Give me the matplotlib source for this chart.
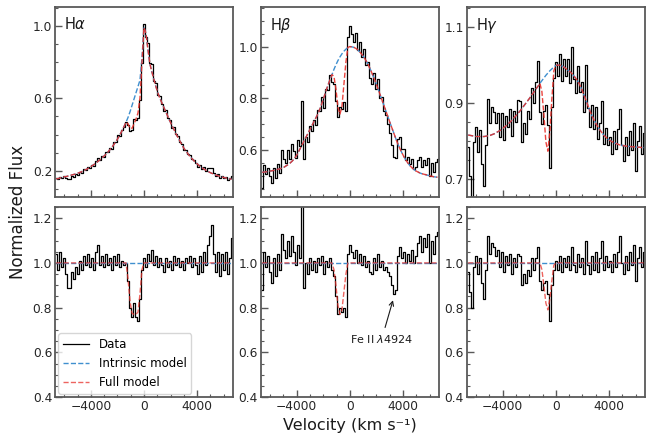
import numpy as np
import matplotlib
matplotlib.use("Agg")
import matplotlib.pyplot as plt
from matplotlib.ticker import MultipleLocator, FixedLocator

# velocity bins (km/s)
vel = np.arange(-6600, 6601, 150)

# intrinsic (unabsorbed) line models
ha_intrinsic = [
    0.155, 0.157, 0.160, 0.163, 0.166, 0.168, 0.171, 0.174, 0.177, 0.180,
    0.183, 0.187, 0.191, 0.196, 0.201, 0.207, 0.213, 0.220, 0.227, 0.235,
    0.243, 0.252, 0.261, 0.271, 0.281, 0.292, 0.304, 0.317, 0.331, 0.346,
    0.362, 0.380, 0.400, 0.421, 0.444, 0.468, 0.494, 0.525, 0.560, 0.595,
    0.630, 0.665, 0.700, 0.820, 0.990, 0.960, 0.870, 0.790, 0.745, 0.705,
    0.665, 0.630, 0.600, 0.575, 0.550, 0.525, 0.500, 0.475, 0.450, 0.430,
    0.405, 0.385, 0.365, 0.345, 0.325, 0.310, 0.295, 0.280, 0.268, 0.256,
    0.245, 0.235, 0.226, 0.218, 0.210, 0.203, 0.197, 0.191, 0.186, 0.181,
    0.177, 0.173, 0.169, 0.166, 0.163, 0.160, 0.158, 0.155, 0.153]
hb_intrinsic = [
    0.515, 0.516, 0.517, 0.518, 0.520, 0.521, 0.523, 0.525, 0.527, 0.529,
    0.532, 0.535, 0.540, 0.545, 0.551, 0.558, 0.567, 0.577, 0.591, 0.606,
    0.621, 0.636, 0.651, 0.666, 0.681, 0.696, 0.711, 0.726, 0.742, 0.760,
    0.782, 0.805, 0.829, 0.851, 0.872, 0.892, 0.912, 0.930, 0.946, 0.960,
    0.972, 0.982, 0.990, 0.997, 1.000, 0.999, 0.997, 0.993, 0.987, 0.979,
    0.970, 0.960, 0.947, 0.933, 0.917, 0.899, 0.880, 0.861, 0.840, 0.818,
    0.796, 0.775, 0.753, 0.731, 0.709, 0.688, 0.667, 0.646, 0.626, 0.608,
    0.592, 0.577, 0.564, 0.552, 0.542, 0.534, 0.527, 0.521, 0.517, 0.513,
    0.510, 0.508, 0.506, 0.504, 0.502, 0.500, 0.498, 0.497, 0.496]
hg_intrinsic = [
    0.816, 0.815, 0.814, 0.813, 0.812, 0.812, 0.812, 0.812, 0.812, 0.813,
    0.814, 0.815, 0.817, 0.819, 0.822, 0.825, 0.828, 0.832, 0.836, 0.840,
    0.845, 0.850, 0.855, 0.861, 0.867, 0.873, 0.879, 0.886, 0.893, 0.900,
    0.907, 0.914, 0.922, 0.929, 0.937, 0.944, 0.952, 0.959, 0.966, 0.973,
    0.979, 0.985, 0.990, 0.995, 0.999, 1.000, 1.000, 0.998, 0.995, 0.991,
    0.987, 0.983, 0.978, 0.972, 0.965, 0.958, 0.948, 0.936, 0.923, 0.909,
    0.895, 0.881, 0.868, 0.857, 0.847, 0.838, 0.830, 0.823, 0.816, 0.811,
    0.806, 0.802, 0.799, 0.796, 0.794, 0.792, 0.790, 0.789, 0.788, 0.787,
    0.786, 0.786, 0.785, 0.785, 0.784, 0.784, 0.784, 0.783, 0.783]

# data / intrinsic model
ha_ratio = [
    1.04, 0.97, 1.05, 0.98, 1.02, 0.95, 0.89, 0.89, 0.96, 0.93,
    0.98, 0.95, 1.01, 0.97, 1.03, 0.99, 1.04, 0.98, 1.02, 0.97,
    1.05, 1.08, 0.99, 1.03, 0.98, 1.04, 0.99, 1.02, 0.97, 1.03,
    0.99, 1.04, 0.98, 1.01, 0.99, 1.00, 0.92, 0.80, 0.76, 0.82,
    0.76, 0.74, 0.84, 0.97, 1.02, 0.98, 1.04, 1.01, 1.06, 0.99,
    1.03, 0.98, 1.02, 0.99, 0.96, 1.02, 0.98, 1.01, 0.97, 1.03,
    0.99, 1.02, 0.98, 1.01, 0.97, 1.02, 1.00, 1.03, 0.98, 1.02,
    0.99, 0.95, 1.03, 0.96, 1.05, 0.99, 1.08, 1.12, 1.17, 1.04,
    0.96, 1.05, 0.94, 1.04, 0.97, 1.05, 0.95, 1.02, 1.11]
hb_ratio = [
    0.88, 1.05, 0.98, 1.03, 0.96, 0.91, 1.02, 0.94, 1.04, 0.97,
    1.13, 1.06, 1.02, 1.10, 1.03, 1.12, 1.05, 0.99, 1.08, 1.02,
    1.27, 0.89, 1.00, 0.95, 1.02, 0.97, 1.01, 0.96, 1.02, 0.99,
    1.03, 0.95, 1.01, 0.98, 1.02, 0.97, 0.94, 0.85, 0.77, 0.80,
    0.78, 0.80, 0.76, 1.04, 1.08, 1.05, 1.02, 1.06, 1.00, 1.04,
    0.99, 1.03, 0.98, 1.01, 0.96, 0.95, 1.02, 0.97, 1.04, 0.98,
    1.01, 0.97, 0.98, 0.96, 0.94, 0.90, 0.86, 0.88, 1.03, 1.07,
    1.02, 1.05, 1.00, 1.04, 1.01, 1.06, 1.00, 1.03, 1.09, 1.12,
    1.05, 1.11, 1.07, 1.13, 1.00, 1.10, 1.04, 1.12, 1.14]
hg_ratio = [
    0.96, 0.87, 0.80, 0.98, 1.03, 0.95, 1.02, 0.91, 0.84, 0.97,
    1.12, 1.04, 1.09, 1.07, 1.03, 1.06, 0.98, 1.05, 0.96, 1.03,
    0.99, 1.04, 0.95, 1.02, 0.98, 1.04, 1.03, 0.90, 0.95, 0.91,
    0.97, 0.94, 1.02, 0.97, 1.02, 1.07, 0.92, 0.88, 0.91, 0.92,
    0.86, 0.74, 0.90, 0.97, 1.01, 0.97, 1.03, 0.96, 1.02, 0.98,
    1.03, 0.97, 1.07, 0.99, 0.96, 1.04, 0.98, 1.02, 0.95, 1.10,
    0.99, 0.95, 1.03, 0.97, 1.05, 0.96, 1.02, 1.10, 0.97, 1.03,
    0.98, 1.01, 0.96, 1.04, 0.98, 1.05, 1.12, 1.00, 0.95, 1.03,
    0.97, 1.05, 0.99, 1.08, 0.92, 1.02, 1.07, 0.98, 1.05]

# absorption trough of the full model (full / intrinsic), 1 elsewhere
ha_abs_vel = [-1200, -1050, -900, -750, -600, -450, -300, -150]
ha_abs = [0.93, 0.83, 0.775, 0.77, 0.77, 0.78, 0.86, 0.97]
hb_abs_vel = [-1200, -1050, -900, -750, -600, -450, -300]
hb_abs = [0.97, 0.90, 0.81, 0.77, 0.79, 0.87, 0.95]
hg_abs_vel = [-1050, -900, -750, -600, -450, -300, -150]
hg_abs = [0.97, 0.90, 0.82, 0.79, 0.84, 0.92, 0.99]

labels = [r"H$\alpha$", r"H$\beta$", r"H$\gamma$"]
top_ylims = [(0.055, 1.105), (0.42, 1.153), (0.653, 1.153)]
top_ticks = [[0.2, 0.6, 1.0], [0.6, 0.8, 1.0], [0.7, 0.9, 1.1]]
top_minor = [0.1, 0.05, 0.05]

c_int = "#3f8fcf"
c_full = "#e8302a"
c_frame = "0.35"

lines = [
    (ha_intrinsic, ha_ratio, ha_abs_vel, ha_abs),
    (hb_intrinsic, hb_ratio, hb_abs_vel, hb_abs),
    (hg_intrinsic, hg_ratio, hg_abs_vel, hg_abs),
]


def style_axis(ax):
    for sp in ax.spines.values():
        sp.set_color(c_frame)
        sp.set_linewidth(1.3)
    ax.tick_params(which="both", direction="in", colors=c_frame,
                   labelcolor="0.15", labelsize=8.8, pad=2)
    ax.tick_params(which="major", length=5, width=1)
    ax.tick_params(which="minor", length=2.5, width=0.8)
    ax.xaxis.set_major_locator(MultipleLocator(4000))
    ax.xaxis.set_minor_locator(MultipleLocator(1000))


fig, axes = plt.subplots(2, 3, figsize=(6.54, 4.33), dpi=100, sharex=True)
fig.subplots_adjust(left=0.084, right=0.986, top=0.984, bottom=0.083,
                    wspace=0.157, hspace=0.053)

for i, (intr, ratio, abs_vel, abs_val) in enumerate(lines):
    intr = np.array(intr)
    ratio = np.array(ratio)
    absorb = np.ones(len(vel))
    absorb[np.isin(vel, abs_vel)] = abs_val

    # top: flux
    ax = axes[0, i]
    ax.plot(vel, intr * ratio, color="k", lw=0.9, drawstyle="steps-mid")
    ax.plot(vel, intr, color=c_int, lw=1.0, ls="--")
    ax.plot(vel, intr * absorb, color=c_full, lw=1.0, ls="--", alpha=0.9)
    ax.set_ylim(*top_ylims[i])
    ax.yaxis.set_major_locator(FixedLocator(top_ticks[i]))
    ax.yaxis.set_minor_locator(MultipleLocator(top_minor[i]))
    ax.text(0.05, 0.95, labels[i], transform=ax.transAxes, fontsize=10.5,
            ha="left", va="top", color="0.1")
    style_axis(ax)

    # bottom: normalised by the intrinsic model
    ax = axes[1, i]
    ax.plot(vel, ratio, color="k", lw=0.9, drawstyle="steps-mid", label="Data")
    ax.plot(vel, np.ones(len(vel)), color=c_int, lw=1.0, ls="--",
            label="Intrinsic model")
    ax.plot(vel, absorb, color=c_full, lw=1.0, ls="--", alpha=0.75,
            label="Full model")
    ax.set_ylim(0.4, 1.25)
    ax.yaxis.set_major_locator(MultipleLocator(0.2))
    ax.yaxis.set_minor_locator(MultipleLocator(0.05))
    style_axis(ax)

axes[1, 0].set_xlim(-6700, 6700)

leg = axes[1, 0].legend(loc="lower left", fontsize=8.5, frameon=True,
                        borderaxespad=0.3, handlelength=2.2)
leg.get_frame().set_edgecolor("0.8")

axes[1, 1].annotate(r"Fe II $\lambda$4924", xy=(3300, 0.845), xytext=(2400, 0.66),
                    ha="center", va="center", fontsize=8, color="0.1",
                    arrowprops=dict(arrowstyle="->", color="0.1", lw=0.8))

fig.text(0.028, 0.51, "Normalized Flux", rotation=90, ha="center", va="center",
         fontsize=12, color="0.1")
fig.text(0.535, 0.0, "Velocity (km s\u207b\u00b9)", ha="center", va="bottom",
         fontsize=11.5, color="0.1")

fig.savefig("out.png", dpi=100)
